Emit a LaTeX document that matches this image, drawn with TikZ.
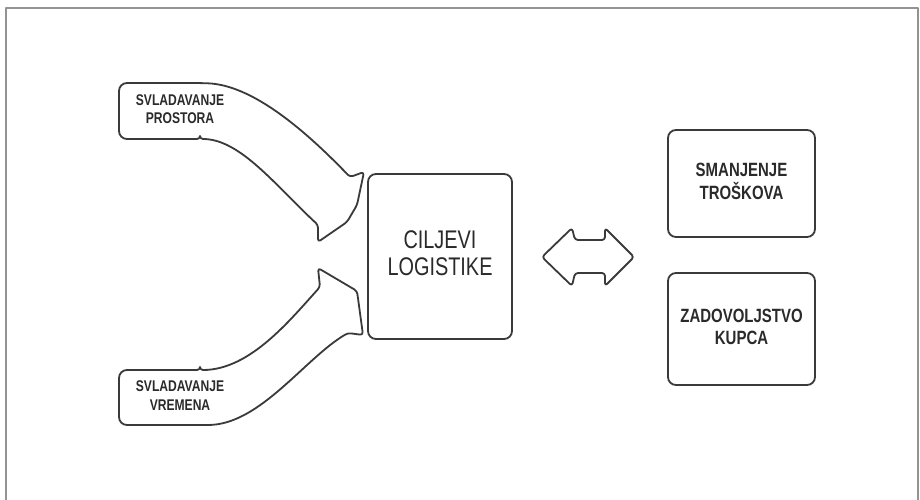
\documentclass[tikz,border=0pt]{standalone}
\usepackage{fontspec}
\usepackage{graphicx}
\setmainfont{Liberation Sans}
\definecolor{crta}{HTML}{3A3A3A}
\definecolor{tekst}{HTML}{2A2A2A}
\newcommand{\usko}[1]{\scalebox{0.78}[1]{\begin{tabular}{@{}c@{}}#1\end{tabular}}}

\begin{document}
\begin{tikzpicture}[x=1pt,y=-1pt,line join=round]
  \tikzstyle{blok}=[draw=crta,line width=1.8pt,rounded corners=8pt,align=center,text=tekst]
  \tikzstyle{oblik}=[draw=crta,line width=1.8pt,fill=white]
  \tikzstyle{natpis}=[align=center,text=tekst,font=\bfseries\fontsize{15.5}{18.5}\selectfont]

  \useasboundingbox (0,0) rectangle (920,500);
  % okvir
  \draw[gray!85,line width=1.4pt] (6,500) -- (6,8) -- (918,8) -- (918,500);

  % gornja zakrivljena strelica
  \draw[oblik] (200,139) [rounded corners=8pt] -- (119,139) -- (119,83) -- (200,83)
    [rounded corners=3pt] .. controls (250,85) and (300,125) .. (350,177)
    -- (364,172) -- (357,205) -- (347,222) -- (318,242) -- (318,225)
    .. controls (275,185) and (240,139) .. (200,139) -- cycle;
  % donja zakrivljena strelica
  \draw[oblik] (200,370) [rounded corners=8pt] -- (119,370) -- (119,425) -- (200,425)
    [rounded corners=3pt] .. controls (260,425) and (305,358) .. (348,333)
    -- (363,335) -- (360,313) -- (357,291) -- (318,268) -- (320,287)
    .. controls (290,320) and (250,370) .. (200,370) -- cycle;

  \node[natpis] (prostor) at (180,111) {\usko{SVLADAVANJE\\PROSTORA}};
  \node[natpis] (vrijeme) at (180,397.5) {\usko{SVLADAVANJE\\VREMENA}};

  \node[blok,minimum width=144pt,minimum height=165pt,font=\fontsize{25.5}{26.5}\selectfont]
    (cilj) at (440,256.5) {\usko{CILJEVI\\LOGISTIKE}};

  \node[blok,minimum width=147pt,minimum height=107pt,font=\bfseries\fontsize{19.2}{22.5}\selectfont]
    (trosak) at (741.5,183.5) {\usko{SMANJENJE\\TROŠKOVA}};
  \node[blok,minimum width=147pt,minimum height=112pt,font=\bfseries\fontsize{19.2}{22.5}\selectfont]
    (kupac) at (741.5,329) {\usko{ZADOVOLJSTVO\\KUPCA}};

  % dvostruka strelica
  \coordinate (veza) at (588,257);
  \draw[oblik,rounded corners=3pt,shift={(veza)}]
    (-46,0) -- (-16,-29) -- (-13,-17) -- (17,-17) -- (17,-29) -- (46,0)
    -- (17,29) -- (17,16) -- (-13,16) -- (-16,29) -- cycle;
\end{tikzpicture}
\end{document}
